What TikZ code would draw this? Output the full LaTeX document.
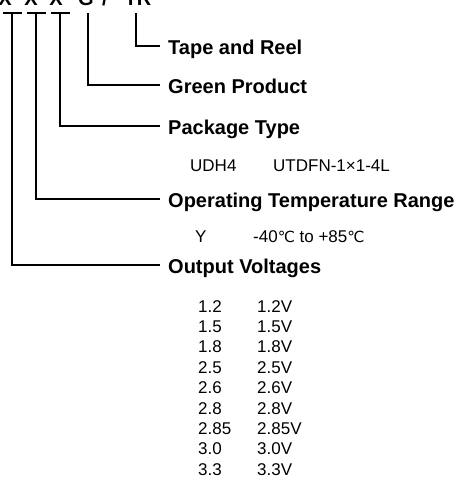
\documentclass[tikz,border=0pt]{standalone}
\usepackage{fontspec}
\setmainfont{Liberation Sans}
\newfontfamily\symfont[Scale=0.9]{DejaVu Sans}
\newcommand{\degC}{{\symfont ℃}}
\begin{document}
\begin{tikzpicture}[x=1pt,y=-1pt,
  head/.style={anchor=base west,inner sep=0pt,font=\bfseries\fontsize{20}{24}\selectfont},
  top/.style={anchor=base,inner sep=0pt,font=\bfseries\fontsize{20}{24}\selectfont},
  txt/.style={anchor=base west,inner sep=0pt,font=\fontsize{17}{20}\selectfont},
  lead/.style={line width=1.3pt}]
\useasboundingbox (0,0) rectangle (458,483);
% top code letters
\node[top] (tx1) at (5,5) {X};
\node[top] (tx2) at (31,5) {X};
\node[top] (tx3) at (56,5) {X};
\node[top] (tg) at (86,5) {G};
\node[top] (ts) at (105,5) {/};
\node[top] (ttr) at (138,5) {TR};
% bars under X
\coordinate (b1l) at (3,13); \coordinate (b1r) at (22,13);
\coordinate (b2l) at (27,13); \coordinate (b2r) at (46,13);
\coordinate (b3l) at (51,13); \coordinate (b3r) at (70,13);
\draw[lead] (b1l) -- (b1r);
\draw[lead] (b2l) -- (b2r);
\draw[lead] (b3l) -- (b3r);
\coordinate (v1) at (12,13);
\coordinate (v2) at (36,13);
\coordinate (v3) at (60,13);
\coordinate (v4) at (88,13);
\coordinate (v5) at (136,13);
% line ends
\coordinate (e5) at (160,46);
\coordinate (e4) at (160,85);
\coordinate (e3) at (160,126);
\coordinate (e2) at (160,199);
\coordinate (e1) at (160,265);
\draw[lead] (v5) |- (e5);
\draw[lead] (v4) |- (e4);
\draw[lead] (v3) |- (e3);
\draw[lead] (v2) |- (e2);
\draw[lead] (v1) |- (e1);
% headings
\node[head] (h5) at (168,54) {Tape and Reel};
\node[head] (h4) at (168,93) {Green Product};
\node[head] (h3) at (168,134) {Package Type};
\node[head] (h2) at (168,207) {Operating Temperature Range};
\node[head] (h1) at (168,273) {Output Voltages};
% package
\node[txt] (p1) at (190,171) {UDH4};
\node[txt] (p2) at (273,171) {UTDFN-1×1-4L};
% temperature
\node[txt] (t1) at (195,242) {Y};
\node[txt] (t2) at (253,242) {-40\degC{} to +85\degC};
% voltages
\foreach \a/\b [count=\i from 0] in {1.2/1.2V,1.5/1.5V,1.8/1.8V,2.5/2.5V,2.6/2.6V,2.8/2.8V,2.85/2.85V,3.0/3.0V,3.3/3.3V}{
  \node[txt] (va\i) at (198,312+\i*20.4) {\a};
  \node[txt] (vb\i) at (257,312+\i*20.4) {\b};
}
\end{tikzpicture}
\end{document}
